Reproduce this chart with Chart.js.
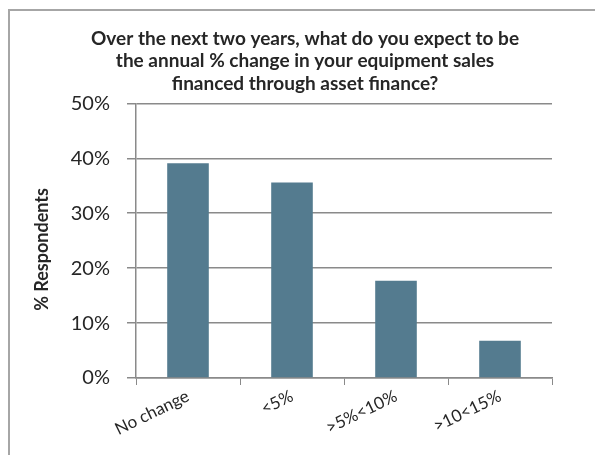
<!DOCTYPE html>
<html>
<head>
<meta charset="utf-8">
<script src="https://cdn.jsdelivr.net/npm/chart.js@4/dist/chart.umd.min.js"></script>
<style>
    html, body { margin: 0; padding: 0; background: #fff; overflow: hidden; }
    #frame {
        position: absolute; left: 8px; top: 9px; width: 700px; height: 600px;
        border-left: 2px solid #a6a6a6; border-top: 2px solid #a6a6a6;
    }
    #wrap { position: absolute; left: 0; top: 0; width: 595px; height: 455px; }
</style>
</head>
<body>
<div id="frame"></div>
<div id="wrap"><canvas id="myChart" width="595" height="455"></canvas></div>
<script>
const categorias = ['No change', '<5%', '>5%<10%', '>10<15%'];
const respondentes = [39.1, 35.6, 17.7, 6.8];
const tituloLineas = [
    'Over the next two years, what do you expect to be',
    'the annual % change in your equipment sales',
    'financed through asset finance?'
];
const ejeY = { min: 0, max: 50, paso: 10 };

const fuente = 'Lato, "DejaVu Sans", sans-serif';
const gris = '#8a8a8a';

const data = {
    labels: categorias,
    datasets: [{
        label: '% Respondents',
        data: respondentes,
        backgroundColor: '#547b8f',
        borderWidth: 0,
        categoryPercentage: 1,
        barPercentage: 0.4
    }]
};

const config = {
    type: 'bar',
    data,
    options: {
        responsive: false,
        animation: false,
        layout: { padding: { left: 15, right: 0, top: 0, bottom: 0 } },
        plugins: {
            legend: { display: false },
            tooltip: { enabled: false },
            title: {
                display: true,
                text: tituloLineas,
                color: '#262626',
                font: { family: fuente, size: 19, weight: 'bold', lineHeight: 1.2 },
                padding: { top: 27, bottom: 8 }
            }
        },
        scales: {
            x: {
                grid: {
                    drawOnChartArea: false,
                    drawTicks: true,
                    tickLength: 7,
                    color: gris,
                    offset: true
                },
                border: { color: gris, width: 1.5 },
                ticks: {
                    color: '#262626',
                    font: { family: fuente, size: 17 },
                    minRotation: 26,
                    maxRotation: 26,
                    autoSkip: false,
                    padding: 1
                },
                afterFit: function (scale) { scale.height = 455 - 378; }
            },
            y: {
                min: ejeY.min,
                max: ejeY.max,
                grid: {
                    color: gris,
                    lineWidth: 1.5,
                    tickLength: 9
                },
                border: { color: gris, width: 1.5 },
                ticks: {
                    stepSize: ejeY.paso,
                    color: '#262626',
                    font: { family: fuente, size: 20 },
                    padding: 17,
                    callback: function (value) {
                        return value + '%';
                    }
                },
                title: {
                    display: true,
                    text: '% Respondents    ',
                    color: '#262626',
                    font: { family: fuente, size: 18, weight: 'bold', lineHeight: 1.2 },
                    padding: { top: 16, bottom: 0 }
                },
                afterFit: function (scale) { scale.width = 136 - 15; }
            },
            // empty margin on the right so the plot ends at x=552
            margen: {
                position: 'right',
                grid: { display: false },
                border: { display: false },
                ticks: { display: false },
                afterFit: function (scale) { scale.width = 43; }
            }
        }
    }
};

const myChart = new Chart(document.getElementById('myChart'), config);
</script>
</body>
</html>
